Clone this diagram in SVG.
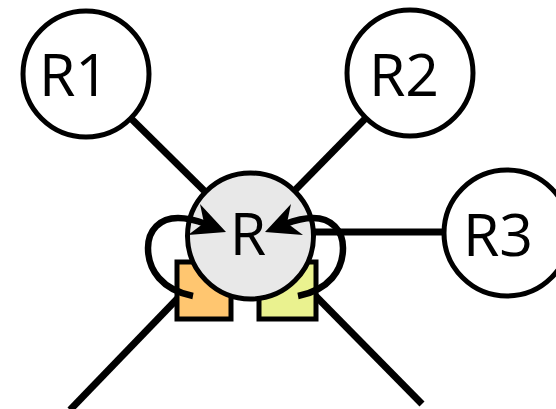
<svg xmlns="http://www.w3.org/2000/svg" width="556" height="409" viewBox="0 0 556 409">
<style>
.edge{stroke:#000;stroke-width:7;fill:none}
.loop{stroke:#000;stroke-width:6.5;fill:none}
.node{stroke:#000;stroke-width:5}
.lbl{font-family:"Open Sans","Liberation Sans",sans-serif;font-size:59px;fill:#000}
</style>
<g id="connectors">
<line class="edge" x1="86" y1="74" x2="250" y2="236"/>
<line class="edge" x1="410" y1="73" x2="250" y2="236"/>
<line class="edge" x1="250" y1="232" x2="507" y2="232"/>
<line class="edge" x1="205" y1="270" x2="70" y2="410"/>
<line class="edge" x1="295" y1="275" x2="422" y2="404"/>
</g>
<g id="box-orange"><rect class="node" x="177" y="262" width="54" height="57" fill="#ffc670"/></g>
<g id="box-green"><rect class="node" x="259" y="262" width="57" height="57" fill="#eaf28f"/></g>
<g id="R1"><circle class="node" cx="86" cy="74" r="63" fill="#fff"/><text class="lbl" x="74" y="96" text-anchor="middle">R1</text></g>
<g id="R2"><circle class="node" cx="410" cy="73" r="63" fill="#fff"/><text class="lbl" x="404" y="96" text-anchor="middle">R2</text></g>
<g id="R3"><circle class="node" cx="507" cy="233" r="63" fill="#fff"/><text class="lbl" x="498" y="256" text-anchor="middle">R3</text></g>
<g id="R"><circle class="node" cx="250.5" cy="236" r="63" fill="#e8e8e8"/><text class="lbl" x="248" y="255" text-anchor="middle">R</text></g>
<g id="loops">
<path class="loop" d="M193,296 C162,290 148,270 148,248 C148,230 160,218 178,218 C190,218 198,221 206,224"/>
<polygon points="226,232 200,204 204,223 188,235" fill="#000"/>
<path class="loop" d="M298,296 C329,290 343,270 343,248 C343,230 331,218 313,218 C301,218 293,221 285,224"/>
<polygon points="265,232 291,204 287,223 303,235" fill="#000"/>
</g>
</svg>
